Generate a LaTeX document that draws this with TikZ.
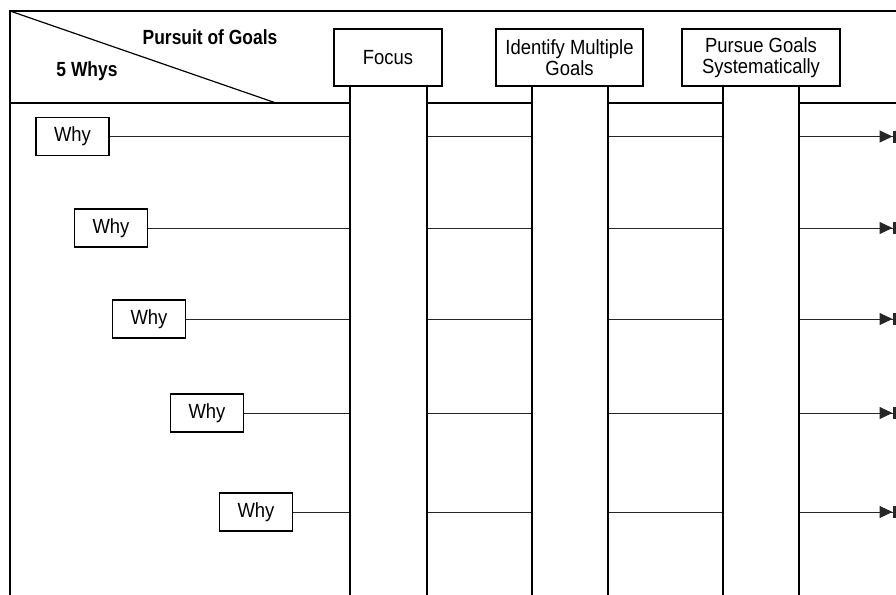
\documentclass[tikz,border=0pt]{standalone}
\usepackage{fontspec}
\setmainfont{Liberation Sans}[FakeStretch=0.9, BoldFeatures={FakeStretch=0.85}]
\usetikzlibrary{arrows.meta}
\begin{document}
\begin{tikzpicture}[x=1pt,y=-1pt,
  frameline/.style={line width=1.4pt},
  rule/.style={line width=2.4pt},
  link/.style={line width=1pt, draw=black!85,
    -{Triangle[length=13pt,width=12pt]Bar[width=12pt,line width=3pt]}},
  whybox/.style={draw, line width=1.2pt, minimum width=73pt, minimum height=38pt,
    inner sep=0pt, font=\fontsize{20.5}{21}\selectfont},
  headbox/.style={draw, fill=white, line width=1.2pt, minimum height=57pt,
    inner sep=0pt, align=center, font=\fontsize{20.5}{21}\selectfont},
  colfill/.style={fill=white},
  coledge/.style={line width=1.2pt},
  title/.style={font=\bfseries\fontsize{20.5}{21}\selectfont}
]
\useasboundingbox (0,0) rectangle (896,594);
\clip (0,0) rectangle (896,594);

% outer frame, header rule and the corner diagonal
\draw[frameline] (900,11) -| (10,600);
\draw[rule] (10,103) -- (900,103);
\draw[line width=1.2pt] (10,11) -- (276,103);
\node[title] (goals) at (210,37) {Pursuit of Goals};
\node[title] (whys) at (87,71) {5 Whys};

% the five why boxes and their rows
\node[whybox] (w1) at (72.5,136.5) {Why};
\node[whybox] (w2) at (111,228) {Why};
\node[whybox] (w3) at (149,319) {Why};
\node[whybox] (w4) at (207,413) {Why};
\node[whybox] (w5) at (256,512) {Why};
\foreach \i/\y in {1/136.5,2/228,3/319,4/413,5/512}{
  \coordinate (e\i) at (895.5,\y);
  \draw[link] (w\i.east) -- (e\i);
}

% columns under the goal headers
\foreach \l/\r in {350/427,532/608,723/799}{
  \fill[colfill] (\l,86) rectangle (\r,600);
  \draw[coledge] (\l,86) -- (\l,600) (\r,86) -- (\r,600);
}

% goal headers
\node[headbox, minimum width=108pt] (h1) at (388,57.5) {Focus};
\node[headbox, minimum width=147pt] (h2) at (569.5,57.5) {Identify Multiple\\Goals};
\node[headbox, minimum width=158pt] (h3) at (761,57.5) {Pursue Goals\\Systematically};
\end{tikzpicture}
\end{document}
